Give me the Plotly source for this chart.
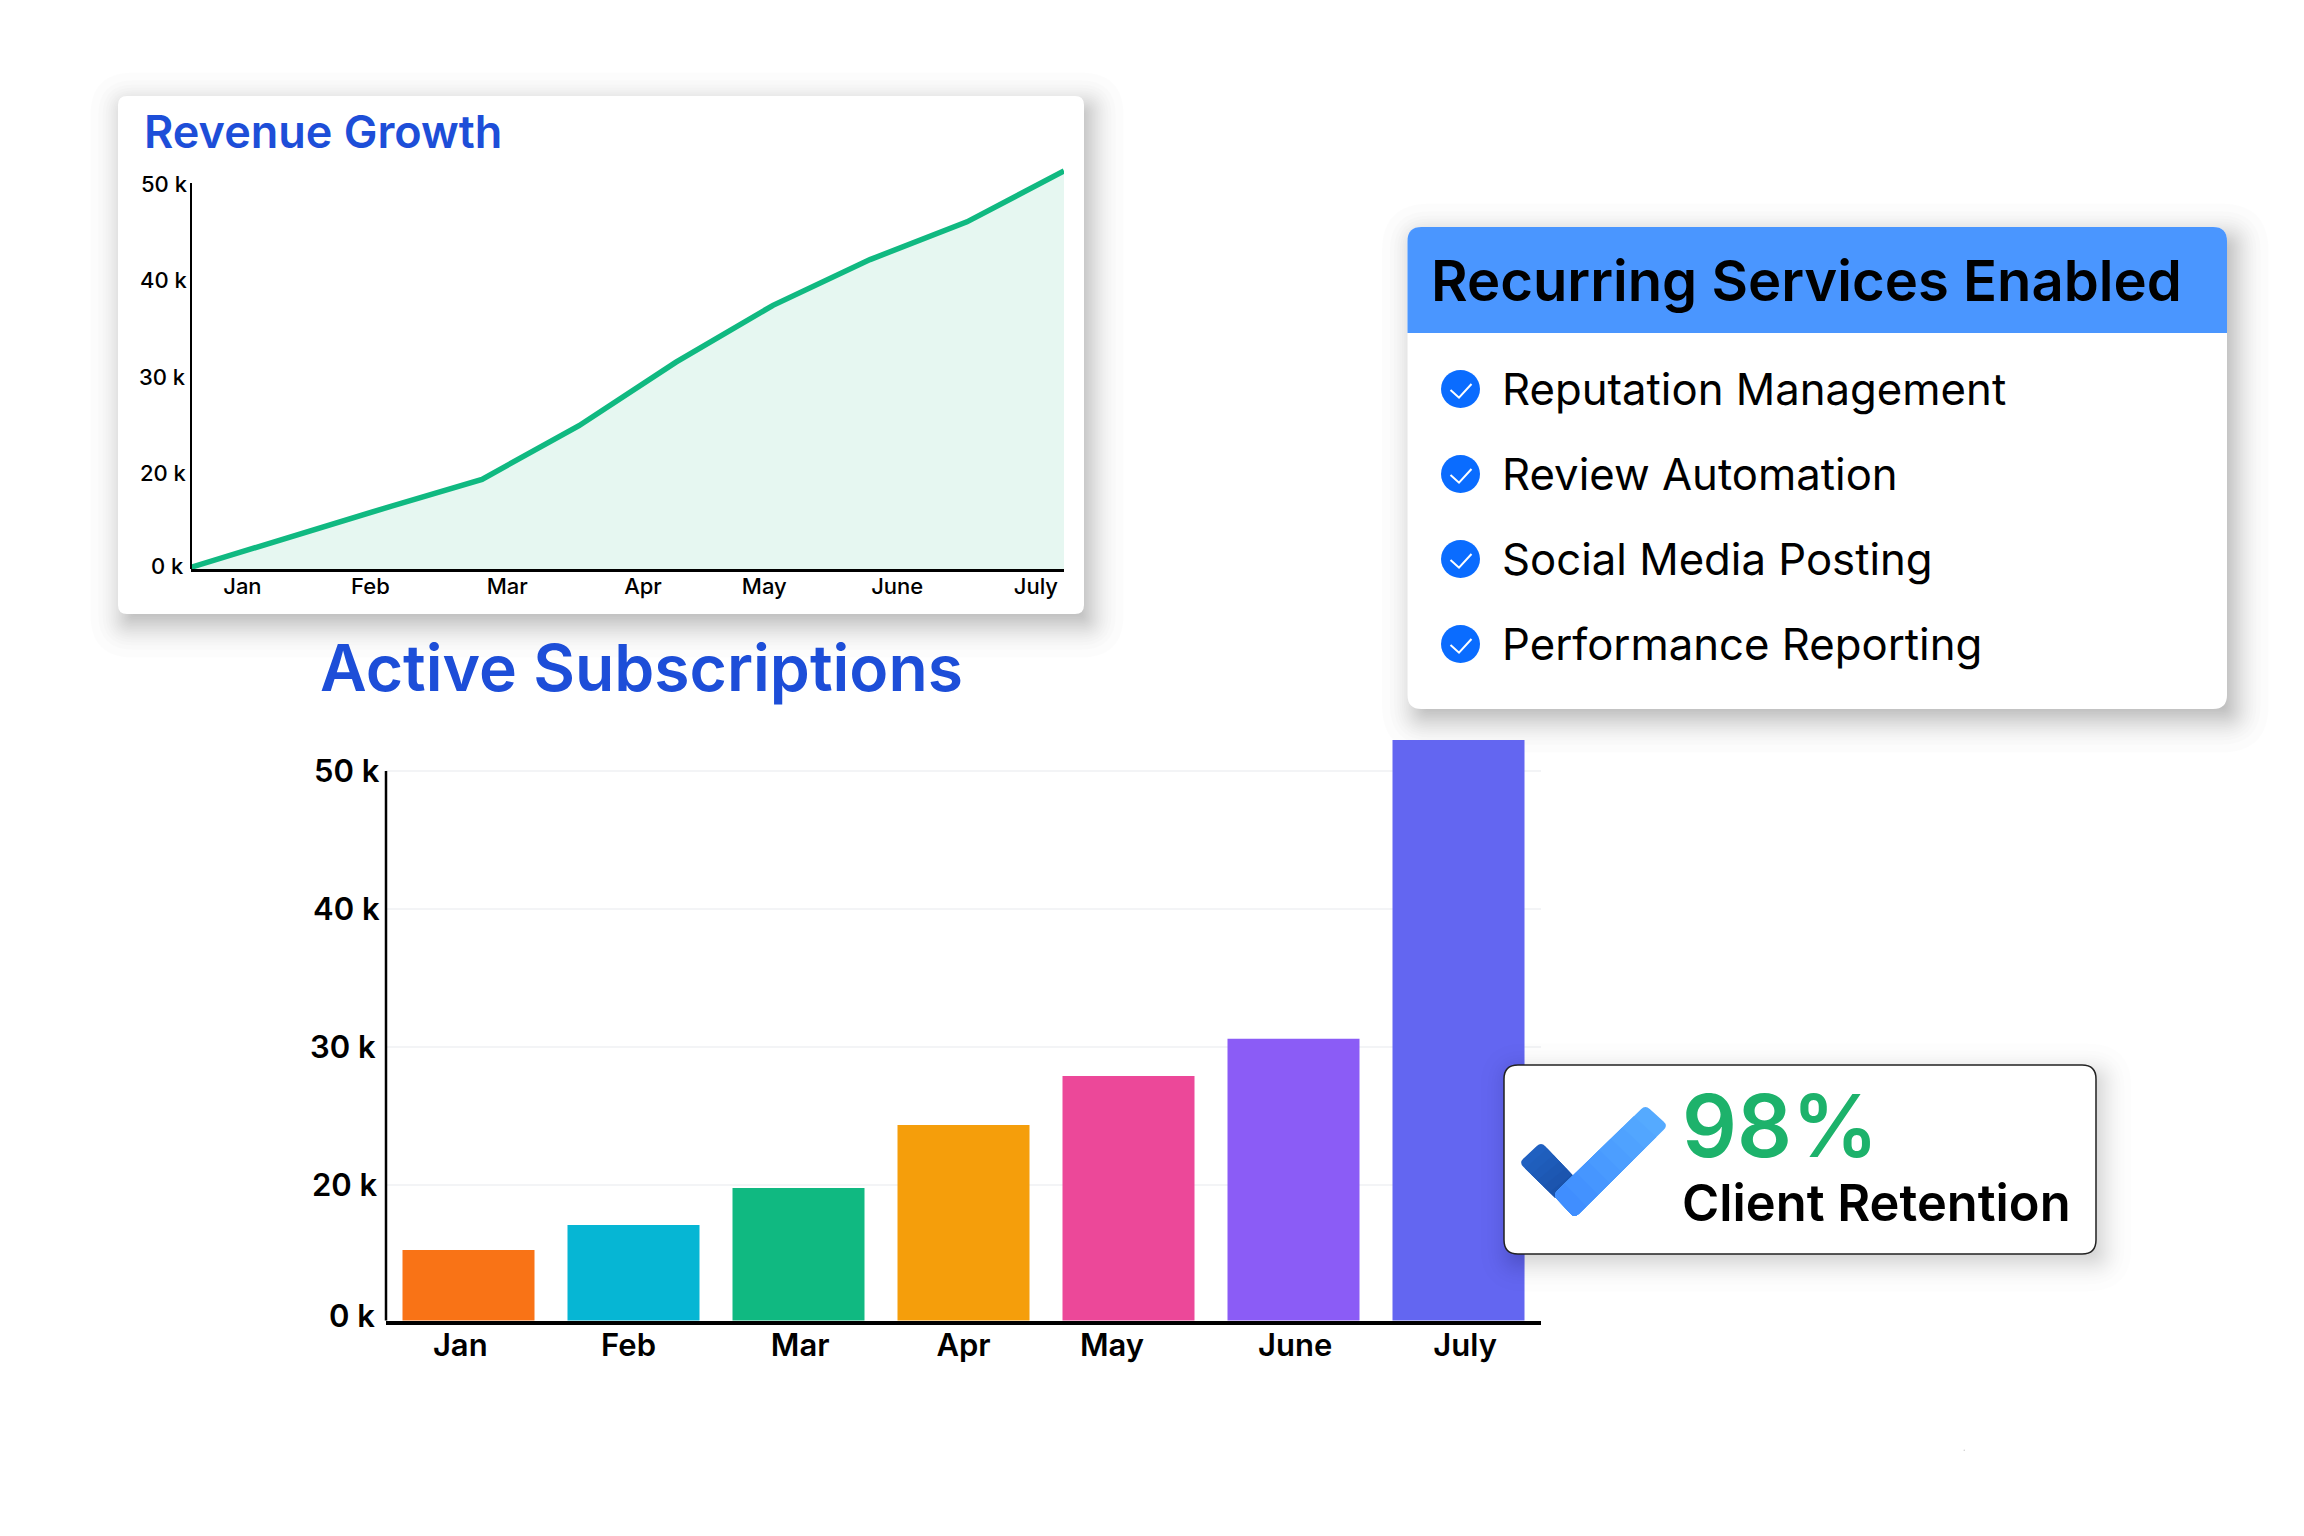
from statistics import NormalDist

import plotly.graph_objects as go

W, H = 2304, 1536
FONT = "Inter"

# Revenue chart: samples along the months, on an evenly stepped axis
revenue_steps = [0, 1, 2, 3, 4, 5, 6, 7, 8, 9]
revenue_values = [10.2, 13.3, 16.35, 19.33, 24.9, 31.5, 37.4, 42.15, 46.07, 51.35]
revenue_tick_pos = [0.53, 1.85, 3.26, 4.66, 5.91, 7.28, 8.71]

# Subscriptions chart
months = ["Jan", "Feb", "Mar", "Apr", "May", "June", "July"]
subscription_values = [15.29, 17.1, 19.78, 24.35, 27.9, 30.6, 52.25]
bar_colors = ["#f97316", "#06b6d4", "#10b981", "#f59e0b", "#ec4899", "#8b5cf6", "#6366f1"]
subscription_tick_pos = [-0.05, 0.97, 2.01, 3.0, 3.9, 5.01, 6.04]

# The axis starts at "0 k" one even step below "20 k"
axis_ticks = [50, 40, 30, 20, 10]
axis_labels = ["50 k", "40 k", "30 k", "20 k", "0 k"]

services = ["Reputation Management", "Review Automation", "Social Media Posting", "Performance Reporting"]


def px(x):
    return x / W


def py(y):
    return 1 - y / H


def rounded_poly(points, radii):
    """Closed path in paper space with a quadratic fillet at each corner."""
    n = len(points)
    parts = []
    for i in range(n):
        prev_p, p, next_p = points[i - 1], points[i], points[(i + 1) % n]
        r = radii[i]

        def toward(q):
            dx, dy = q[0] - p[0], q[1] - p[1]
            length = (dx * dx + dy * dy) ** 0.5
            return p[0] + dx / length * r, p[1] + dy / length * r

        a, b = toward(prev_p), toward(next_p)
        parts.append(("M" if i == 0 else "L") + f"{px(a[0]):.5f},{py(a[1]):.5f}")
        if r > 0:
            parts.append(f"Q{px(p[0]):.5f},{py(p[1]):.5f} {px(b[0]):.5f},{py(b[1]):.5f}")
    return " ".join(parts) + " Z"


def poly_shape(points, radii, color, layer="above"):
    return dict(type="path", xref="paper", yref="paper", path=rounded_poly(points, radii),
                fillcolor=color, layer=layer, line=dict(width=0))


def round_rect(x0, y0, x1, y1, r):
    corners = [(x0, y0), (x1, y0), (x1, y1), (x0, y1)]
    return rounded_poly(corners, [r] * 4)


def card_shapes(box, r, dx, dy, sigma, strength, layer="below", border=None):
    x0, y0, x1, y1 = box
    shapes = []
    n = 28
    normal = NormalDist(0, sigma)
    # soft drop shadow: stacked translucent rectangles spaced on a bell curve
    spreads = sorted((normal.inv_cdf((i + 0.5) / n) for i in range(n)), reverse=True)
    for e in spreads:
        shapes.append(dict(type="path", xref="paper", yref="paper", layer=layer,
                           path=round_rect(x0 + dx - e, y0 + dy - e, x1 + dx + e, y1 + dy + e,
                                           max(r + e, 3)),
                           fillcolor=f"rgba(0,0,0,{strength / n:.4f})", line=dict(width=0)))
    shapes.append(dict(type="path", xref="paper", yref="paper", layer=layer,
                       path=round_rect(x0, y0, x1, y1, r), fillcolor="#ffffff",
                       line=dict(color=border or "#ffffff", width=1.5 if border else 0)))
    return shapes


def text(x, y, s, size, color="#000000", weight=500, xanchor="left", yanchor="middle", yref="paper"):
    return dict(xref="paper", yref=yref, x=px(x), y=py(y) if yref == "paper" else y, text=s, showarrow=False,
                xanchor=xanchor, yanchor=yanchor,
                font=dict(family=FONT, size=size, color=color, weight=weight))


def lerp(a, b, t):
    return a[0] + (b[0] - a[0]) * t, a[1] + (b[1] - a[1]) * t


fig = go.Figure()

# Revenue area and line
fig.add_trace(go.Scatter(
    x=revenue_steps, y=revenue_values, mode="lines", fill="tozeroy",
    fillcolor="#e6f7f1", line=dict(color="#10b981", width=5.5), xaxis="x", yaxis="y",
    hoverinfo="skip", showlegend=False,
))

# Subscription bars
fig.add_trace(go.Bar(
    x=list(range(7)), y=subscription_values, marker=dict(color=bar_colors, line=dict(width=0)),
    width=0.8, xaxis="x2", yaxis="y2", hoverinfo="skip", showlegend=False,
))

shapes = []
shapes += card_shapes((118, 96, 1084, 614), 9, 6, 10, 16, 0.30)
shapes += card_shapes((1407.5, 227, 2227, 709), 14, 8, 10, 16, 0.30)

# Header band of the services card
header_corners = [(1407.5, 333), (1407.5, 227), (2227, 227), (2227, 333)]
shapes.append(poly_shape(header_corners, [0, 14, 14, 0], "#4a96ff", "below"))

# Bullets of the services list
for cy in [389, 474, 559, 644]:
    shapes.append(dict(type="circle", xref="paper", yref="paper", layer="below",
                       x0=px(1460.5 - 19.5), x1=px(1460.5 + 19.5), y0=py(cy + 19), y1=py(cy - 19),
                       fillcolor="#0a6cff", line=dict(width=0)))
    tick = f"M{px(1450.5):.5f},{py(cy + 1):.5f} L{px(1459):.5f},{py(cy + 8.7):.5f} L{px(1471.5):.5f},{py(cy - 5):.5f}"
    shapes.append(dict(type="path", xref="paper", yref="paper", layer="below", path=tick,
                       line=dict(color="#ffffff", width=2)))

# Axis stems: they stop at the top tick, while the marks may rise above it
shapes.append(dict(type="line", xref="x domain", yref="y", layer="above", x0=0, x1=0, y0=10, y1=50.1,
                   line=dict(color="#000000", width=2)))
shapes.append(dict(type="line", xref="x2 domain", yref="y2", layer="above", x0=0, x1=0, y0=10, y1=50,
                   line=dict(color="#000000", width=2.5)))

# Retention card sits over the last bar
shapes += card_shapes((1504, 1065, 2096, 1254), 14, 6, 8, 14, 0.26, layer="above", border="#222222")

# Two-tone check mark, gradient built from overlapping polygons
dark_a, dark_b, dark_c, dark_d = (1541.2, 1142), (1578, 1181), (1555.5, 1198), (1519, 1162.7)
shapes.append(poly_shape([dark_a, dark_b, dark_c, dark_d], [6, 0, 0, 6], "#2060c0"))
for i in range(1, 6):
    t = i / 6
    col = f"rgb({32 - 6 * i // 5},{96 - 14 * i // 5},{192 - 22 * i // 5})"
    shapes.append(poly_shape([lerp(dark_a, dark_b, t), dark_b, dark_c, lerp(dark_d, dark_c, t)],
                             [0, 0, 0, 0], col))

long_a, long_b, long_c, long_d = (1645.3, 1105), (1668, 1125.5), (1574.7, 1218), (1553, 1195)
for i in range(0, 8):
    t = i / 8
    col = f"rgb({85 - int(24 * t)},{170 - int(32 * t)},255)"
    top_r = 6 if i == 0 else 0
    shapes.append(poly_shape([lerp(long_a, long_d, t), lerp(long_b, long_c, t), long_c, long_d],
                             [top_r, top_r, 6, 6], col))

# Faint speck near the lower right
shapes.append(dict(type="circle", xref="paper", yref="paper", layer="below",
                   x0=px(1963.5), x1=px(1965), y0=py(1451), y1=py(1449.5),
                   fillcolor="#cccccc", line=dict(width=0)))

annotations = [
    text(142, 131, "Revenue Growth", 45, "#1d4ed8", 600),
    text(318, 667, "Active Subscriptions", 64.2, "#1d4ed8", 600),
    text(1429, 280.5, "Recurring Services Enabled", 56.2, "#000000", 600),
    text(1680, 1126, "98%", 86, "#1db26b", 600),
    text(1680, 1202, "Client Retention", 50.6, "#000000", 600),
]
for cy, s in zip([389.5, 474.5, 559.5, 644.5], services):
    annotations.append(text(1499.5, cy, s, 43.7, "#000000", 420))

# Hand-nudged value labels beside both y axes
for v, s, right in zip(axis_ticks, axis_labels, [190, 190, 188, 189, 186]):
    ann = text(right, v + (0.3 if v == 10 else 0), s, 22, "#000000", 520, xanchor="right", yref="y")
    annotations.append(ann)
for v, s, right in zip(axis_ticks, axis_labels, [382, 382, 378, 380, 377]):
    ann = text(right, v + (0.55 if v == 10 else 0.07), s, 31, "#000000", 560, xanchor="right", yref="y2")
    annotations.append(ann)

# Pixel frames of the two plot areas
L1 = (191, 1064, 150, 569)
L2 = (386, 1541, 723, 1320.5)
px_per_unit_1 = 9.63
px_per_unit_2 = 13.8

fig.update_layout(
    width=W, height=H, autosize=False, margin=dict(l=0, r=0, t=0, b=0),
    paper_bgcolor="#ffffff", plot_bgcolor="rgba(0,0,0,0)", showlegend=False,
    font=dict(family=FONT, color="#000000"),
    xaxis=dict(
        domain=[px(L1[0]), px(L1[1])], range=[0, 9.0], anchor="y",
        tickmode="array", tickvals=revenue_tick_pos, ticktext=months,
        tickfont=dict(family=FONT, size=22, color="#000000", weight=520),
        ticks="", ticklabelstandoff=-4,
        showgrid=False, zeroline=False, showline=True, linecolor="#000000", linewidth=3,
    ),
    yaxis=dict(
        domain=[py(L1[3]), py(L1[2])],
        range=[50 - (L1[3] - 184) / px_per_unit_1, 50 - (L1[2] - 184) / px_per_unit_1],
        anchor="x", showticklabels=False, ticks="", showgrid=False, zeroline=False, showline=False,
    ),
    xaxis2=dict(
        domain=[px(L2[0]), px(L2[1])], range=[-0.5, 6.5], anchor="y2",
        tickmode="array", tickvals=subscription_tick_pos, ticktext=months,
        tickfont=dict(family=FONT, size=31, color="#000000", weight=560),
        ticks="", ticklabelstandoff=-6,
        showgrid=False, zeroline=False, showline=True, linecolor="#000000", linewidth=4,
    ),
    yaxis2=dict(
        domain=[py(L2[3]), py(L2[2])],
        range=[50 - (L2[3] - 771) / px_per_unit_2, 50 - (L2[2] - 771) / px_per_unit_2],
        anchor="x2", showticklabels=False, ticks="", tickmode="array", tickvals=[20, 30, 40, 50],
        showgrid=True, gridcolor="#f3f4f6", gridwidth=2, zeroline=False, showline=False,
    ),
    shapes=shapes, annotations=annotations,
)

fig.write_html("out.html")
